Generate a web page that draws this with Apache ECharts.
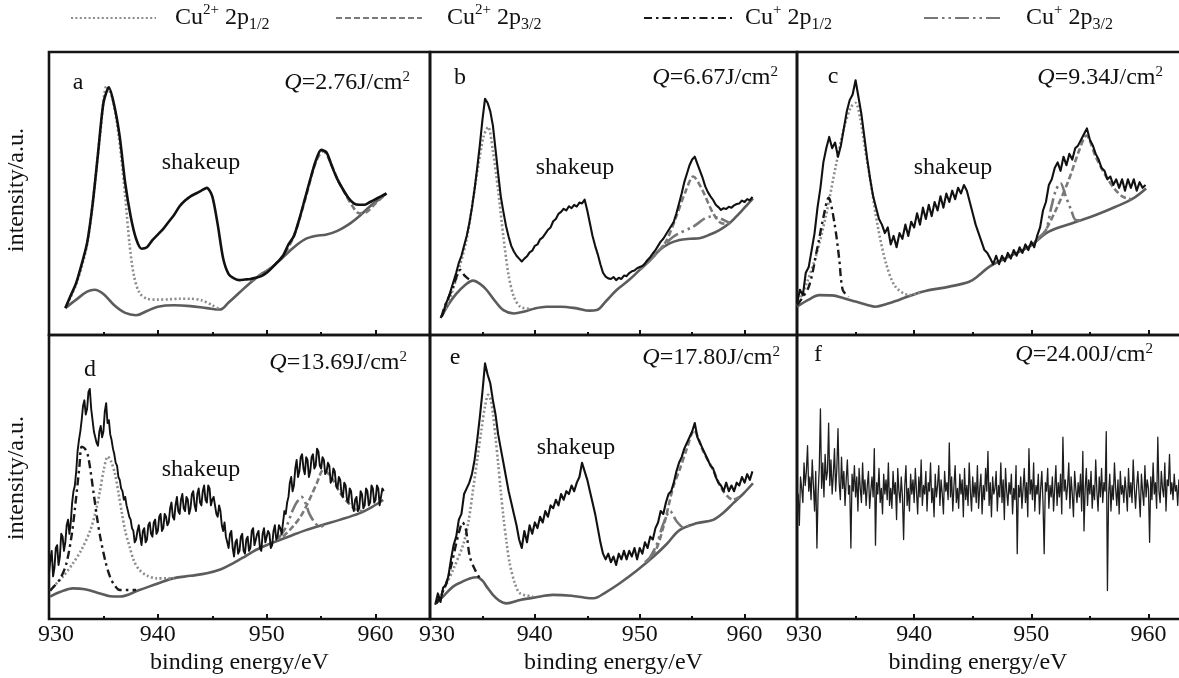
<!DOCTYPE html>
<html><head><meta charset="utf-8">
<script src="https://cdn.jsdelivr.net/npm/echarts@6/dist/echarts.min.js"></script>
<style>html,body{margin:0;padding:0;background:#fff}#c{width:1179px;height:678px}</style>
</head><body><div id="c"></div>
<script>
// ---------------- DATA ----------------
const panelLetters = ['a','b','c','d','e','f'];
const fluenceValues = ['2.76','6.67','9.34','13.69','17.80','24.00'];
const xTickLabels = [930, 940, 950, 960];
const legendNames = ['Cu2+ 2p1/2','Cu2+ 2p3/2','Cu+ 2p1/2','Cu+ 2p3/2'];

// measured spectra: start energy, step (eV), intensities
const measuredStart = [931.5, 931.0, 930.0, 930.0, 930.5, 930.0];
const measuredStep  = [0.5, 0.25, 0.25, 0.125, 0.25, 0.1];
const measuredA = [9.5,14,18.4,25,32.5,46,64,82,87.5,81,70,53.7,42,34,30.5,31,33.5,35.5,37.5,40,42.5,45.5,47.5,49,50,51,52,49,39,27,21.5,20,19.4,19.6,19.8,20.2,20.8,22,23.8,25.8,28,32,35,41,48,55,61.5,65.4,64.5,59.5,55,51.5,48.5,46.5,46,46,47,48,49,50];
const measuredB = [6.0,7.5,11.0,13.0,16.0,19.0,22.0,25.5,28.0,31.5,35.0,39.5,45.0,51.5,59.0,67.0,76.0,83.5,82.0,79.0,74.0,65.5,57.0,49.0,43.5,38.5,34.7,31.5,29.5,28.0,27.0,26.0,27.0,27.8,29.2,29.8,31.5,32.0,33.8,34.5,35.8,37.2,38.0,40.2,41.0,42.8,43.5,44.6,44.0,45.5,44.8,46.0,45.4,46.8,46.5,47.8,44.0,39.5,35.0,31.5,28.5,25.0,22.0,20.6,20.0,19.8,20.5,19.4,20.2,19.8,21.0,20.8,21.9,22.5,22.8,23.6,24.0,24.4,25.3,26.5,27.5,28.8,30.0,31.5,33.0,34.0,35.5,37.0,38.5,40.0,43.0,46.5,50.0,54.0,57.0,60.0,62.0,63.0,60.5,58.0,55.5,52.5,50.5,49.0,47.7,46.0,45.2,44.2,44.8,44.5,45.3,45.0,45.8,46.3,46.5,47.5,47.0,48.0,47.6,48.8];
const measuredC = [11,16,14,22,24,30,36,45,52,61,66,70,66,68,63,67,73,79,83,85,90,84,78,70,62,55,49,45,41,39,36,38,32,35,31,36,34,39,35,40,38,43,39,45,41,46,42,47,44,49,45,50,47,51,48,52,50,53,51,47,43,39,36,33,30,29,27,25,28,25,28,26,29,27,30,28,31,29,32,30,33,31,35,38,44,47,53,55,59,61,58,63,60,64,62,66,67,69,71,73,69,67,64,62,59,58,55,56,53,55,52,55,51,55,52,55,51,54,52,53];
const measuredD = [
 16,21,24,15,18,25,26,19,22,30,29,24,27,33,35,30,34,41,45,47,52,59,63,66,70,75,77,72,74,80,81,74,
 70,66,66,62,61,66,68,64,66,73,76,69,70,65,63,60,58,55,54,50,49,46,45,42,43,40,38,36,35,32,31,27,
 28,31,33,29,26,31,32,27,28,33,34,30,29,34,35,30,31,36,37,31,32,37,36,33,34,39,41,36,35,40,43,38,
 37,42,44,39,38,43,42,37,39,44,45,40,38,44,46,41,40,45,47,42,41,47,46,40,42,43,40,37,36,40,38,33,
 31,34,29,27,25,30,31,25,22,27,28,23,24,29,30,24,23,28,29,24,25,31,32,26,26,30,31,25,24,30,32,27,
 27,31,30,25,26,31,33,28,29,33,32,30,34,38,37,41,43,48,50,45,47,53,56,50,52,57,58,53,51,57,56,50,
 52,57,58,53,54,60,59,54,53,57,56,51,52,55,54,48,49,53,52,47,46,50,49,44,43,48,47,42,41,46,45,40,
 38,42,43,38,39,45,44,39,40,46,45,40,41,47,46,41,42,47,46,40,40,46,45];
const measuredE = [5,9,6,11,12,15,21,26,29,35,37,44,46,48,51,56,63,71,80,90,86,83,77,72,65,60,55,50,45,41,37,33,28,25,31,27,33,30,34,32,36,34,38,36,40,39,42,40,44,42,45,44,47,45,48,50,55,52,49,45,41,37,32,27,23,21,23,20,22,19,23,21,24,21,24,22,25,21,25,23,27,25,29,28,32,34,38,37,41,44,45,48,52,55,57,60,62,64,66,69,64,62,60,58,56,54,53,50,48,47,45,48,45,47,45,48,47,50,48,51,49,52];
const measuredF = [
 38,44,33,50,46,41,55,47,52,61, 45,50,42,56,47,38,52,25,44,53, 74,46,55,43,58,49,52,69,47,56,
 44,51,60,45,53,67,48,42,57,46, 52,40,49,56,44,47,25,51,45,54, 43,50,38,53,46,41,55,44,49,40,
 47,52,39,45,50,43,60,26,48,44, 53,41,46,37,51,44,49,42,55,40, 46,39,52,44,48,35,53,45,41,50,
 43,28,47,54,40,46,38,51,44,49, 41,53,45,37,50,43,56,40,47,44, 52,38,48,45,55,41,46,36,51,43,
 47,54,40,49,44,37,52,45,48,42, 62,43,50,38,47,54,41,46,39,51, 44,49,36,53,42,47,40,55,45,38,
 50,43,48,41,54,39,46,51,37,47, 42,53,45,59,40,48,36,50,44,46, 52,38,47,43,55,41,49,35,53,45,
 40,48,44,51,37,46,42,54,23,47, 43,50,39,46,53,41,48,36,60,44, 49,42,55,38,47,44,51,37,46,52,
 41,23,48,45,53,39,47,43,50,38, 46,54,40,48,43,51,37,64,45,49, 42,47,55,39,50,44,36,52,46,41,
 48,43,51,38,59,31,46,53,40,49, 44,52,39,47,42,56,45,38,50,43, 53,41,48,45,66,10,44,51,38,47,
 42,55,46,40,49,37,52,44,47,41, 50,45,38,53,43,48,41,56,46,39, 47,52,44,36,51,45,40,54,43,49,
 46,27,50,42,55,44,48,39,64,45, 41,52,46,43,55,38,49,47,58,44, 48,42,51,45,47,40,49,44,50,46];

// background (Shirley) curves [energy, intensity]
const backgroundA = [[931.5,9.5],[932.5,12.5],[933.5,15.3],[934.2,16],[935,14.5],[936,10.5],[937,7.8],[938,7],[939,8.5],[940,10],[941.5,10.5],[943,10.2],[944.5,9.5],[945.7,9],[946.5,11.5],[947.5,15],[948.5,18.5],[949.5,21.5],[950.5,24],[951.5,27.5],[952.5,31],[953.5,33.8],[954.5,35],[955.5,35.5],[956.5,36.8],[957.5,39],[958.5,42],[959.5,45.5],[960.5,48.5],[961,50]];
const backgroundB = [[931.1,6.5],[931.8,11],[932.5,14.5],[933.3,17.5],[934.1,19.2],[934.8,18],[935.4,15.9],[936.2,12],[937,8.8],[938,7.6],[939,8.3],[940,9.4],[941.1,10],[942.5,10],[944,9.4],[945.2,8.6],[945.9,8.8],[946.8,12],[947.8,15.9],[949,19.5],[950,23],[951,26.5],[951.9,30],[952.8,32.3],[953.8,33.6],[954.8,34],[955.7,34.2],[956.7,35.5],[957.6,37.1],[958.5,39.3],[959.2,41.8],[960,45],[960.8,48.3]];
const backgroundC = [[930,10],[931,12.5],[931.9,14.1],[933,14],[934,13],[935,11.8],[936,10.6],[936.7,10],[937.7,11],[938.7,12.4],[940.7,15.3],[943,17.1],[944.7,18.8],[945.5,21],[946.4,24.1],[948.1,27.7],[949.8,31.2],[951.5,36.5],[953.5,39.5],[955.5,42.4],[957.2,45.3],[958.7,48.3],[959.8,51.8]];
const backgroundD = [[930.1,7.9],[931,9.5],[932.2,10.8],[933.3,10.5],[934.7,9],[935.6,8],[936.5,7.9],[938.3,10.2],[940,12.5],[941.4,14.3],[943,15.2],[944.5,16.1],[945.8,17.5],[946.9,19.6],[948,22],[949,24.3],[950.1,26.2],[951.2,27.8],[952.4,29.6],[953.6,31.3],[955.1,33.1],[956.7,34.9],[958.5,37.2],[959.7,39.5],[960.7,41.9]];
const backgroundE = [[930.6,5.5],[931.4,8.5],[932.2,11.4],[933,13],[933.8,14.3],[934.5,14.7],[935,13.5],[935.4,11.4],[936,8.5],[936.6,6.5],[937.3,5.5],[938.6,6.7],[940,7.6],[941.7,8.5],[943.5,8.2],[944.8,7.5],[945.6,7.3],[946.8,9.5],[948.1,12.6],[949.7,17],[951.3,21.9],[952.6,26.5],[953.8,31.3],[955.4,33.7],[957,34.9],[958,37.5],[958.9,40.7],[959.9,44.2],[960.8,47.8]];

// Cu2+ 2p1/2 fits (dotted)
const cu2p12A = [[931.5,9.5],[932.5,18],[933.5,32],[934.2,53],[934.7,71],[935.3,88],[935.8,84],[936.2,76],[936.6,64],[937,49],[937.4,32],[937.8,21],[938.3,15],[939,12.8],[940,12.5],[941,12.6],[942,12.8],[943,12.8],[944,12.3],[945,10.5],[945.7,9]];
const cu2p12B = [[931.1,6.5],[931.8,12],[932.5,20],[933.5,34],[934.4,55],[935.1,70],[935.55,73.5],[936,65],[936.5,51],[937,34.7],[937.5,21],[938,13.5],[938.6,10],[939.5,9.2]];
const cu2p12C = [[930,10.5],[930.8,18],[931.6,27.7],[932.45,41.8],[933.3,59.5],[934,73],[934.6,80.5],[935,82],[935.4,76.5],[935.8,66],[936.3,53.6],[936.9,38.3],[937.6,25.3],[938.4,17.1],[939.6,14.1],[940.7,15.2]];
const cu2p12D = [[930.1,10],[930.4,11.4],[931.3,15],[932.2,19.6],[933,24.5],[933.8,31.3],[934.3,38],[934.7,45.4],[935.05,53],[935.4,57.2],[935.7,55.5],[936.05,51.3],[936.4,44],[936.7,37.2],[937,31],[937.4,25.5],[937.8,20.5],[938.3,17.3],[939,15.3],[939.9,14.3],[941.5,14.3]];
const cu2p12E = [[930.6,5.5],[931.4,11],[932.2,17.3],[933.2,26.6],[933.7,35],[934.1,45.4],[934.5,56],[934.9,66.5],[935.25,75],[935.55,78.9],[935.8,77],[936,72.4],[936.25,64],[936.5,54.8],[936.75,45],[937,36],[937.3,27],[937.6,19.6],[938.1,12.5],[938.6,9],[939.8,8]];

// Cu2+ 2p3/2 fits (dashed)
const cu2p32A = [[948.5,19],[949.5,21.5],[950.5,24],[951.5,28],[952.5,35],[953.5,47.5],[954.5,61],[955.2,65],[955.8,61.5],[956.5,55],[957.2,50],[957.8,46],[958.5,43],[959.2,43.5],[960,46.5],[961,50]];
const cu2p32B = [[950,23],[951.5,28.5],[952.5,33],[953.5,42],[954.4,51],[955.1,56],[956,51],[957,43],[957.8,39.5],[958.5,39.3]];
const cu2p32C = [[950.3,33],[951,35.5],[952.1,44.2],[953.2,54.8],[954.1,65.4],[954.7,70.5],[955.5,63],[956.4,55.9],[957.2,51.2],[957.8,48.9],[958.5,48]];
const cu2p32D = [[951.5,29],[952.4,32.5],[953.1,36],[953.6,39.5],[954.1,43.5],[954.6,47.8],[955.2,52.5],[955.7,51],[956.1,48.9],[956.5,46],[957,43],[957.6,40.5],[958.2,38.5],[958.8,38]];
const cu2p32E = [[950.5,20],[951.5,24],[952.3,33],[953.2,46.6],[953.8,52.5],[954.45,59.5],[955.2,66.5],[955.6,63.5],[956,59.5],[957,52.5],[957.9,45.4],[958.9,42],[959.5,43]];

// Cu+ 2p1/2 fits (dash-dot)
const cu1p12B = [[931.1,6.5],[931.4,10],[932.2,17],[932.9,23],[933.3,21],[933.8,19.4]];
const cu1p12C = [[930,10.5],[931,17],[931.7,30],[932.2,40.5],[932.7,48.5],[933.2,39.5],[933.6,27],[933.9,16],[934.4,13.5]];
const cu1p12D = [[930.1,10],[931,14],[931.6,19.6],[932.1,30],[932.5,43],[932.8,54],[933,60.7],[933.3,60],[933.6,57.2],[934.1,44.3],[934.4,36],[934.7,29],[935.2,20],[935.6,14.9],[936,12],[936.5,10.2],[938,10.2]];
const cu1p12E = [[930.6,5.5],[931.5,12],[932.1,20],[932.5,26.6],[932.8,31],[933.1,34],[933.4,32],[933.8,21.9],[934.3,17.3],[934.8,14]];

// Cu+ 2p3/2 fits (dash-dot-dot)
const cu1p32B = [[950.5,25],[951.3,27.7],[953.2,34.7],[955.1,38.3],[956.7,41.8],[957.6,41.3],[958.6,39.5]];
const cu1p32C = [[950.5,34],[951.25,37.1],[951.7,45],[952.1,51.2],[952.5,53.6],[952.95,48.9],[953.4,44.2],[953.8,40.6],[954.3,40.5]];
const cu1p32D = [[951,28],[951.8,32.5],[952.3,37.5],[952.7,40.7],[953.2,43],[953.6,40.5],[953.9,37.2],[954.4,34],[954.9,32.5],[955.4,33.3]];
const cu1p32E = [[950.8,20.5],[951.6,26],[952.2,33],[952.9,38],[953.5,34.5],[954.2,32.2],[954.8,33]];

// ---------------- LAYOUT / STYLE ----------------
const FONT = 'Liberation Serif';
const grids = [
  {left:49, top:52, width:381, height:283},
  {left:430, top:52, width:367, height:283},
  {left:797, top:52, width:410, height:283},
  {left:49, top:335, width:381, height:284},
  {left:430, top:335, width:367, height:284},
  {left:797, top:335, width:410, height:284}
];
const measuredArr = [measuredA, measuredB, measuredC, measuredD, measuredE, measuredF];
const bgArr = [backgroundA, backgroundB, backgroundC, backgroundD, backgroundE, null];
const dotArr = [cu2p12A, cu2p12B, cu2p12C, cu2p12D, cu2p12E, null];
const dashArr = [cu2p32A, cu2p32B, cu2p32C, cu2p32D, cu2p32E, null];
const ddArr = [null, cu1p12B, cu1p12C, cu1p12D, cu1p12E, null];
const dddArr = [null, cu1p32B, cu1p32C, cu1p32D, cu1p32E, null];

const lineStyles = {
  'Cu2+ 2p1/2': {color:'#8c8c8c', width:2.6, type:[2,2.4]},
  'Cu2+ 2p3/2': {color:'#7a7a7a', width:2.6, type:[6,3]},
  'Cu+ 2p1/2':  {color:'#1a1a1a', width:2.4, type:[8,4,2.5,4]},
  'Cu+ 2p3/2':  {color:'#777777', width:2.6, type:[14,4,2.5,4,2.5,4]},
  bg: {color:'#5c5c5c', width:2.6, type:'solid'}
};
const measuredStyles = [
  {color:'#111', width:2.6}, {color:'#111', width:2.1}, {color:'#111', width:2.1},
  {color:'#111', width:1.9}, {color:'#111', width:2.1}, {color:'#1e1e1e', width:1.3}
];

function pairsFrom(start, step, ys){ return ys.map((y,i)=>[+(start + i*step).toFixed(3), y]); }

const series = [];
grids.forEach((g,k)=>{
  const add = (name, data, st, z, smooth) => {
    if(!data) return;
    series.push({type:'line', name, xAxisIndex:k, yAxisIndex:k, data, symbol:'none',
      smooth: smooth, itemStyle:{color:st.color},
      lineStyle: Object.assign({cap:'butt', join:'round'}, st), z, silent:true});
  };
  add('bg'+k, bgArr[k], lineStyles.bg, 2, 0.35);
  add('Cu2+ 2p1/2', dotArr[k], lineStyles['Cu2+ 2p1/2'], 3, 0.3);
  add('Cu2+ 2p3/2', dashArr[k], lineStyles['Cu2+ 2p3/2'], 3, 0.3);
  add('Cu+ 2p1/2', ddArr[k], lineStyles['Cu+ 2p1/2'], 3, 0.3);
  add('Cu+ 2p3/2', dddArr[k], lineStyles['Cu+ 2p3/2'], 3, 0.3);
  add('measured'+k, pairsFrom(measuredStart[k], measuredStep[k], measuredArr[k]), measuredStyles[k], 4, k===0 ? 0.25 : false);
});

const xAxes = grids.map((g,k)=>({
  type:'value', gridIndex:k, min:930, max:965, interval:10,
  axisLine:{show:false},
  axisTick:{show:true, inside:true, length:5, lineStyle:{color:'#111', width:2}},
  minorTick:{show:true, splitNumber:2, length:3, lineStyle:{color:'#111', width:2}},
  splitLine:{show:false}, minorSplitLine:{show:false},
  axisLabel:{show:k>=3, margin:4, fontFamily:FONT, fontSize:24, color:'#111',
    showMaxLabel:false,
    formatter: v => xTickLabels.indexOf(v) < 0 ? '' : (v===930 ? '{f|930}' : String(v)),
    rich:{f:{padding:[0,0,0,14], fontFamily:FONT, fontSize:24, color:'#111'}}},
  name: k>=3 ? 'binding energy/eV' : '',
  nameLocation:'middle', nameGap:32,
  nameTextStyle:{fontFamily:FONT, fontSize:24, color:'#111', padding: k===5 ? [0,48,0,0] : 0}
}));
const yAxes = grids.map((g,k)=>({type:'value', gridIndex:k, min:0, max:100, show:false}));

const legendPos = [[70,85,14],[335,86,20],[643,88,8],[923,79,18]];
const legendText = {
  'Cu2+ 2p1/2':'Cu{sup|2+} 2p{sub|1/2}',
  'Cu2+ 2p3/2':'Cu{sup|2+} 2p{sub|3/2}',
  'Cu+ 2p1/2':'Cu{sup|+} 2p{sub|1/2}',
  'Cu+ 2p3/2':'Cu{sup|+} 2p{sub|3/2}'
};
const legends = legendNames.map((n,i)=>({
  data:[n], left:legendPos[i][0], top:3, itemWidth:legendPos[i][1], itemHeight:14, padding:0,
  selectedMode:false,
  itemStyle:{opacity:0},
  formatter: name => legendText[name],
  textStyle:{fontFamily:FONT, fontSize:24, color:'#111', lineHeight:30, padding:[0,0,0,legendPos[i][2]],
    rich:{
      sup:{fontFamily:FONT, fontSize:15, lineHeight:13, verticalAlign:'top', color:'#111'},
      sub:{fontFamily:FONT, fontSize:16, lineHeight:9, verticalAlign:'bottom', color:'#111'}
    }}
}));

// text annotations
const letterPos = [[78,83],[460,78],[833,77],[90,370],[455,358],[818,355]];
const fluencePos = [[410,83],[778,78],[1163,78],[407,363],[780,358],[1153,355]];
const shakeupPos = [[201,163],[575,168],[953,168],[201,470],[576,448]];
const graphics = [];
const mkText = (x,y,text,align,extra) => Object.assign({type:'text', x, y, z:100, silent:true,
  style:{text, font:'24px "'+FONT+'"', fill:'#111', align, verticalAlign:'middle', textAlign:align, textVerticalAlign:'middle', lineHeight:26,
    rich:{
      q:{fontFamily:FONT, fontSize:24, fontStyle:'italic', fill:'#111', lineHeight:26},
      sup:{fontFamily:FONT, fontSize:15, lineHeight:12, verticalAlign:'top', fill:'#111'}
    }}}, extra||{});
panelLetters.forEach((l,k)=>{
  graphics.push(mkText(letterPos[k][0], letterPos[k][1], l, 'center'));
  graphics.push(mkText(fluencePos[k][0], fluencePos[k][1], '{q|Q}=' + fluenceValues[k] + 'J/cm{sup|2}', 'right'));
});
shakeupPos.forEach(p=>graphics.push(mkText(p[0], p[1], 'shakeup', 'center')));
graphics.push(mkText(17, 190, 'intensity/a.u.', 'center', {rotation:Math.PI/2}));
graphics.push(mkText(17, 478, 'intensity/a.u.', 'center', {rotation:Math.PI/2}));

const chart = echarts.init(document.getElementById('c'), null, {renderer:'canvas'});
chart.setOption({
  animation:false,
  backgroundColor:'#fff',
  grid: grids.map(g=>Object.assign({show:true, borderColor:'#151515', borderWidth:2.6, backgroundColor:'transparent', containLabel:false, outerBoundsMode:'none'}, g)),
  xAxis: xAxes,
  yAxis: yAxes,
  legend: legends,
  graphic: graphics,
  series
});
</script></body></html>
